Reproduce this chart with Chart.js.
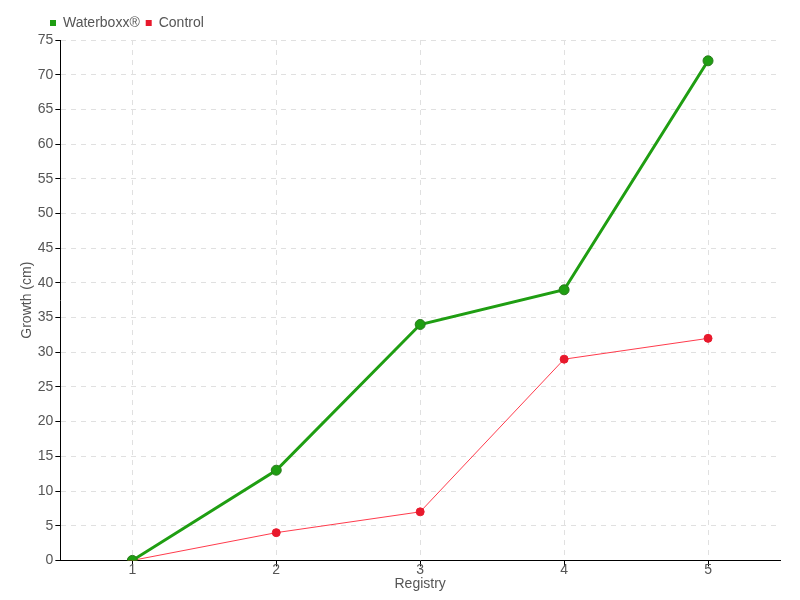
<!DOCTYPE html>
<html>
<head>
<meta charset="utf-8">
<script src="https://cdn.jsdelivr.net/npm/chart.js@4/dist/chart.umd.min.js"></script>
<style>
  body { margin: 0; background: #fff; }
  #wrap { width: 800px; height: 600px; }
</style>
</head>
<body>
<div id="wrap"><canvas id="myChart"></canvas></div>
<script>
var registry = ["1", "2", "3", "4", "5"];
var waterboxx = [0, 13, 34, 39, 72];
var control = [0, 4, 7, 29, 32];

Chart.defaults.font.family = "'Liberation Sans', sans-serif";
Chart.defaults.color = "#555";

// push the legend to the right so it starts near the y axis
var legendShift = {
  id: "legendShift",
  afterLayout: function(chart) {
    chart.legend.left += 25;
    chart.legend.right += 25;
  }
};

new Chart("myChart", {
  type: "line",
  data: {
    labels: registry,
    datasets: [{
      label: "Waterboxx®",
      data: waterboxx,
      borderColor: "#1f9e12",
      backgroundColor: "#1f9e12",
      borderWidth: 3,
      pointRadius: 5,
      pointBorderColor: "#2a7a1e",
      pointBackgroundColor: "#1f9e12",
      pointBorderWidth: 1,
      tension: 0
    }, {
      label: "Control",
      data: control,
      borderColor: "#ff3b4c",
      backgroundColor: "#e8192c",
      borderWidth: 1,
      pointRadius: 4,
      pointBorderColor: "#e8192c",
      pointBackgroundColor: "#e8192c",
      tension: 0
    }]
  },
  options: {
    responsive: true,
    maintainAspectRatio: false,
    animation: false,
    layout: { padding: { left: 19, right: 20, top: 10, bottom: 7 } },
    plugins: {
      legend: {
        align: "start",
        labels: {
          boxWidth: 6, boxHeight: 6, padding: 6, font: { size: 14 },
          generateLabels: function(chart) {
            return Chart.defaults.plugins.legend.labels.generateLabels(chart).map(function(l) {
              l.lineWidth = 0;
              return l;
            });
          }
        }
      },
      tooltip: { enabled: false }
    },
    scales: {
      x: {
        offset: true,
        title: { display: true, text: "Registry", font: { size: 14 }, padding: { top: 3, bottom: 0 } },
        grid: { color: "#e0e0e0", tickLength: 6, tickColor: "#000", tickBorderDash: [] },
        border: { color: "#000", width: 1, dash: [5, 5] },
        ticks: { font: { size: 14 }, padding: -5 }
      },
      y: {
        min: 0,
        max: 75,
        title: { display: true, text: "Growth (cm)", font: { size: 14 }, padding: 0 },
        grid: { color: "#e0e0e0", tickLength: 5, tickColor: "#000", tickBorderDash: [] },
        border: { color: "#000", width: 1, dash: [5, 5] },
        ticks: { stepSize: 5, font: { size: 14 }, padding: 2 }
      }
    }
  },
  plugins: [legendShift]
});
</script>
</body>
</html>
